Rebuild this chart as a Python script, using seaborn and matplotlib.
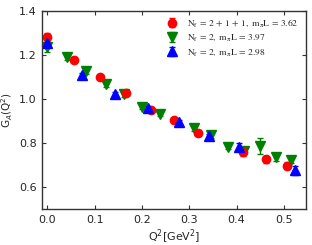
import numpy as np
import matplotlib
matplotlib.use("Agg")
import matplotlib.pyplot as plt
import seaborn as sns
from matplotlib.font_manager import FontProperties

# N_f = 2+1+1, m_pi L = 3.62
red_x = [0.0, 0.056, 0.112, 0.166, 0.219, 0.268, 0.319, 0.414, 0.462, 0.507]
red_y = [1.283, 1.179, 1.099, 1.029, 0.951, 0.903, 0.846, 0.757, 0.725, 0.697]
red_err = [0.018, 0.01, 0.01, 0.01, 0.01, 0.01, 0.012, 0.015, 0.015, 0.015]

# N_f = 2, m_pi L = 3.97
green_x = [0.0, 0.041, 0.082, 0.123, 0.162, 0.200, 0.238, 0.311, 0.346, 0.382, 0.416, 0.450, 0.484, 0.516]
green_y = [1.235, 1.19, 1.127, 1.066, 1.023, 0.965, 0.933, 0.867, 0.836, 0.783, 0.765, 0.787, 0.735, 0.723]
green_err = [0.02, 0.012, 0.012, 0.012, 0.012, 0.01, 0.01, 0.012, 0.012, 0.012, 0.015, 0.035, 0.015, 0.015]

# N_f = 2, m_pi L = 2.98
blue_x = [0.0, 0.073, 0.144, 0.212, 0.279, 0.342, 0.405, 0.524]
blue_y = [1.255, 1.108, 1.023, 0.960, 0.894, 0.832, 0.783, 0.675]
blue_err = [0.018, 0.012, 0.01, 0.01, 0.01, 0.01, 0.015, 0.02]

labels = [r"$\mathrm{N_f}\,=\,2\,+\,1\,+\,1,\ \mathrm{m_\pi L}\,=\,3.62$",
          r"$\mathrm{N_f}\,=\,2,\ \mathrm{m_\pi L}\,=\,3.97$",
          r"$\mathrm{N_f}\,=\,2,\ \mathrm{m_\pi L}\,=\,2.98$"]

sns.set_style("ticks")
plt.rcParams["font.family"] = ["DejaVu Sans"]

fig = plt.figure(figsize=(3.12, 2.45), dpi=100)
ax = fig.add_axes([0.135, 0.147, 0.846, 0.808])

hg = ax.errorbar(green_x, green_y, yerr=green_err, fmt="v", color="green",
                 ms=6.5, capsize=2.5, elinewidth=1, capthick=1, label=labels[1])
hr = ax.errorbar(red_x, red_y, yerr=red_err, fmt="o", color="red",
                 ms=6, capsize=2.5, elinewidth=1, capthick=1, label=labels[0])
hb = ax.errorbar(blue_x, blue_y, yerr=blue_err, fmt="^", color="blue",
                 ms=6.5, capsize=2.5, elinewidth=1, capthick=1, label=labels[2])

ax.set_xlim(-0.011, 0.547)
ax.set_ylim(0.5, 1.4)
ax.set_xticks([0.0, 0.1, 0.2, 0.3, 0.4, 0.5])
ax.set_yticks([0.6, 0.8, 1.0, 1.2, 1.4])
ax.tick_params(direction="in", top=True, right=True, labelsize=8, length=3,
               width=0.8, color="#333333", pad=4)
for s in ax.spines.values():
    s.set_color("#333333")
    s.set_linewidth(1)

ax.set_xlabel(r"Q$^2$[GeV$^2$]", fontsize=8, labelpad=2)
ax.set_ylabel(r"G$_A$(Q$^2$)", fontsize=7.5, labelpad=3)

leg_font = FontProperties(family="DejaVu Sans", size=6.8, math_fontfamily="stix")
ax.legend(handles=[hr, hg, hb], loc="upper right", prop=leg_font, frameon=False,
          labelspacing=0.42, handletextpad=0.7, handlelength=1.6, borderaxespad=0.3,
          bbox_to_anchor=(0.995, 1.0))

fig.savefig("out.png", dpi=100)
